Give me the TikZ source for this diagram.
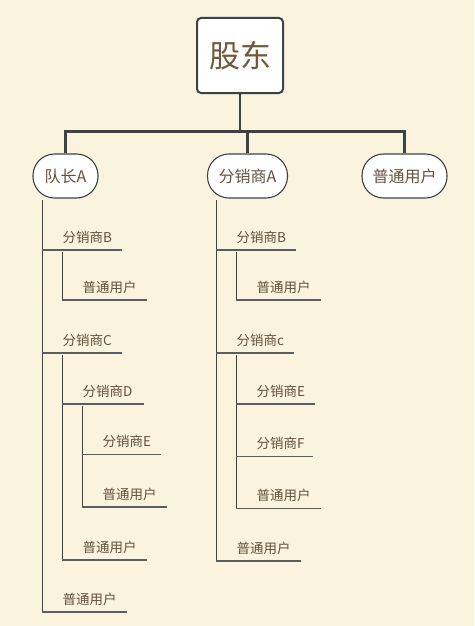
\documentclass[tikz,border=0pt]{standalone}
\usepackage{fontspec}
\newfontfamily\cjk{Noto Sans CJK SC}
\usetikzlibrary{calc}
\definecolor{bg}{HTML}{FAF3DD}
\definecolor{ln}{HTML}{3C4347}
\definecolor{sl}{HTML}{585E62}
\definecolor{txt}{HTML}{65513A}
\definecolor{roottxt}{HTML}{735838}
\tikzset{
  rootbox/.style={draw=ln, line width=2pt, fill=white, rounded corners=4pt, minimum width=86pt, minimum height=75pt, inner sep=0pt, font=\cjk\fontsize{31}{36}\selectfont, text=roottxt},
  pill/.style={draw=ln, line width=1.1pt, fill=white, rounded corners=21.5pt, minimum height=44pt, inner sep=0pt, font=\cjk\fontsize{16}{19}\selectfont, text=txt},
  trunk/.style={draw=ln, line width=2.4pt},
  vline/.style={draw=ln, line width=1.15pt},
  uline/.style={draw=sl, line width=1.15pt},
  item/.style={anchor=base west, inner sep=0pt, font=\cjk\fontsize{13.5}{16}\selectfont, text=txt},
}
\begin{document}
\begin{tikzpicture}[x=1pt,y=-1pt]
\useasboundingbox (0,0) rectangle (474,626);
\fill[bg] (0,0) rectangle (474,626);

% root and first level
\node[rootbox] (root) at (240,55.5) {股东};
\node[pill, minimum width=65pt] (pa) at (65.5,176) {队长A};
\node[pill, minimum width=80pt] (pb) at (247.5,176) {分销商A};
\node[pill, minimum width=85pt] (pc) at (404.5,176) {普通用户};
\coordinate (j) at (240,131.5);
\draw[trunk] (root.south) -- (j);
\draw[trunk] (j) -| (pa.north);
\draw[trunk] (j) -| (pb.north);
\draw[trunk] (j) -| (pc.north);

% ---------- left tree ----------
\coordinate (la0) at (42.3,200);
\coordinate (la1) at (42.3,612);
\draw[vline] (la0) -- (la1);

\coordinate (lb0) at (42.3,250); \coordinate (lb1) at (122,250);
\draw[uline] (lb0) -- (lb1);
\node[item] (lB) at ($(lb0)+(20,-8)$) {分销商B};
\coordinate (lbv0) at (62.3,252); \coordinate (lbu0) at (62.3,300); \coordinate (lbu1) at (147,300);
\draw[vline] (lbv0) -- (lbu0);
\draw[uline] (lbu0) -- (lbu1);
\node[item] (lBu) at ($(lbu0)+(20,-8)$) {普通用户};

\coordinate (lc0) at (42.3,353); \coordinate (lc1) at (122,353);
\draw[uline] (lc0) -- (lc1);
\node[item] (lC) at ($(lc0)+(20,-8)$) {分销商C};
\coordinate (lcv0) at (62.3,355); \coordinate (lcv1) at (62.3,560);
\draw[vline] (lcv0) -- (lcv1);

\coordinate (ld0) at (62.3,404); \coordinate (ld1) at (144,404);
\draw[uline] (ld0) -- (ld1);
\node[item] (lD) at ($(ld0)+(20,-8)$) {分销商D};
\coordinate (ldv0) at (82.3,406); \coordinate (ldv1) at (82.3,507);
\draw[vline] (ldv0) -- (ldv1);
\coordinate (le0) at (82.3,454.5); \coordinate (le1) at (161,454.5);
\draw[uline] (le0) -- (le1);
\node[item] (lE) at ($(le0)+(20,-8)$) {分销商E};
\coordinate (ldu1) at (167,507);
\draw[uline] (ldv1) -- (ldu1);
\node[item] (lDu) at ($(ldv1)+(20,-8)$) {普通用户};

\coordinate (lcu1) at (147,560);
\draw[uline] (lcv1) -- (lcu1);
\node[item] (lCu) at ($(lcv1)+(20,-8)$) {普通用户};

\coordinate (lau1) at (127,612);
\draw[uline] (la1) -- (lau1);
\node[item] (lAu) at ($(la1)+(20,-8)$) {普通用户};

% ---------- right tree ----------
\coordinate (ra0) at (216.3,200);
\coordinate (ra1) at (216.3,561);
\draw[vline] (ra0) -- (ra1);

\coordinate (rb0) at (216.3,250); \coordinate (rb1) at (296,250);
\draw[uline] (rb0) -- (rb1);
\node[item] (rB) at ($(rb0)+(20,-8)$) {分销商B};
\coordinate (rbv0) at (236.3,252); \coordinate (rbu0) at (236.3,300); \coordinate (rbu1) at (321,300);
\draw[vline] (rbv0) -- (rbu0);
\draw[uline] (rbu0) -- (rbu1);
\node[item] (rBu) at ($(rbu0)+(20,-8)$) {普通用户};

\coordinate (rc0) at (216.3,353); \coordinate (rc1) at (294,353);
\draw[uline] (rc0) -- (rc1);
\node[item] (rC) at ($(rc0)+(20,-8)$) {分销商c};
\coordinate (rcv0) at (236.3,355); \coordinate (rcv1) at (236.3,508.5);
\draw[vline] (rcv0) -- (rcv1);
\coordinate (re0) at (236.3,404); \coordinate (re1) at (315,404);
\draw[uline] (re0) -- (re1);
\node[item] (rE) at ($(re0)+(20,-8)$) {分销商E};
\coordinate (rf0) at (236.3,456.5); \coordinate (rf1) at (313,456.5);
\draw[uline] (rf0) -- (rf1);
\node[item] (rF) at ($(rf0)+(20,-8)$) {分销商F};
\coordinate (rcu1) at (321,508.5);
\draw[uline] (rcv1) -- (rcu1);
\node[item] (rCu) at ($(rcv1)+(20,-8)$) {普通用户};

\coordinate (rau1) at (301,561);
\draw[uline] (ra1) -- (rau1);
\node[item] (rAu) at ($(ra1)+(20,-8)$) {普通用户};
\end{tikzpicture}
\end{document}
